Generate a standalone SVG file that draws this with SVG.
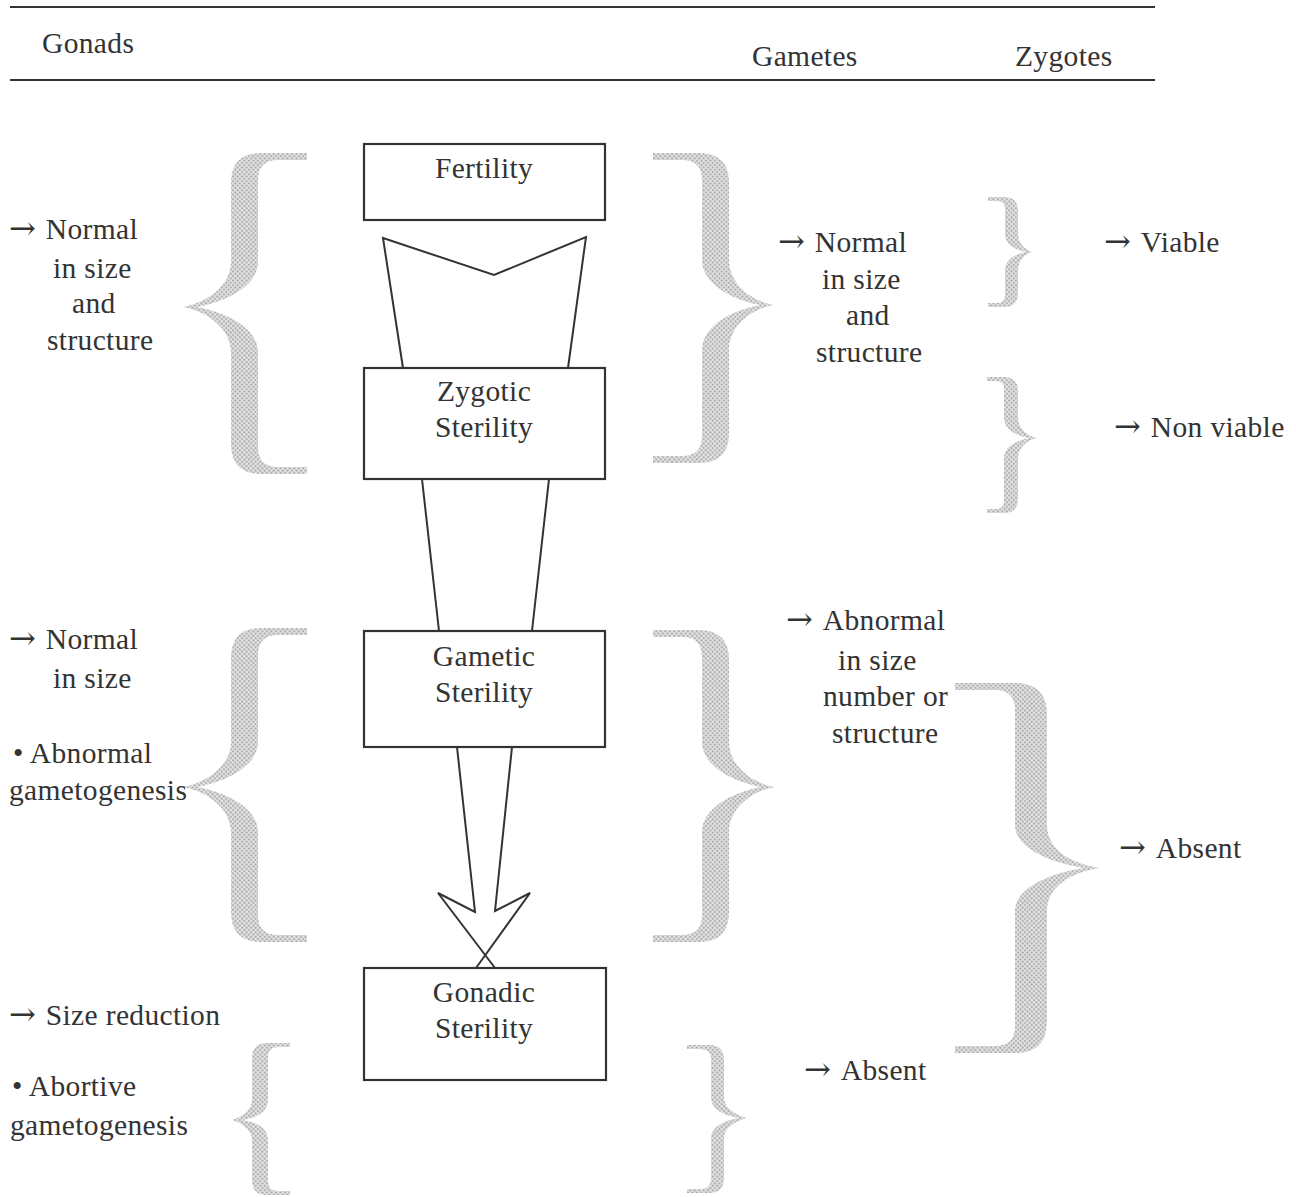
<svg xmlns="http://www.w3.org/2000/svg" width="1296" height="1197" viewBox="0 0 1296 1197">
<style>
text{font-family:"Liberation Serif","Times New Roman",serif;font-size:29.5px;fill:#333;letter-spacing:0.35px}
.ar{font-family:"DejaVu Serif",serif;font-size:32px;letter-spacing:0;font-weight:normal}
.mid{text-anchor:middle}
.box rect{fill:#fff;stroke:#333;stroke-width:2.2}
.rule{stroke:#333;stroke-width:2.2}
.conn{fill:none;stroke:#333;stroke-width:2;stroke-linejoin:miter}
.brace{fill:url(#ht)}
</style>
<defs>
<pattern id="ht" width="3.2" height="3.2" patternUnits="userSpaceOnUse" patternTransform="rotate(45)">
<rect width="3.2" height="3.2" fill="#e2e2e2"/>
<circle cx="1.6" cy="1.6" r="1.1" fill="#aaaaaa"/>
</pattern>
</defs>
<rect width="1296" height="1197" fill="#fff"/>

<g id="header">
<line class="rule" x1="10" y1="7" x2="1155" y2="7"/>
<line class="rule" x1="10" y1="80" x2="1155" y2="80"/>
<text x="42" y="53">Gonads</text>
<text x="752" y="66">Gametes</text>
<text x="1015" y="66">Zygotes</text>
</g>

<g id="braces">
<path class="brace" d="M307,153 L261,153 Q231,153 231,183 L231,262 C231,285 207,303 183,307 C207,311 231,329 231,352 L231,444 Q231,474 261,474 L307,474 L307,467 L278,467 Q258,467 258,447 L258,352 C258,330 230,313 197,307 C230,301 258,284 258,262 L258,180 Q258,160 278,160 L307,160 Z"/>
<path class="brace" d="M653,153 L699,153 Q729,153 729,183 L729,260 C729,283 750,301 774,305 C750,309 729,327 729,350 L729,433 Q729,463 699,463 L653,463 L653,456 L682,456 Q702,456 702,436 L702,350 C702,328 728,311 760,305 C728,299 702,282 702,260 L702,180 Q702,160 682,160 L653,160 Z"/>
<path class="brace" d="M988,197 L1004,197 Q1018,197 1018,211 L1018,234 C1018,243 1025,250 1032,252 C1025,254 1018,261 1018,270 L1018,293 Q1018,307 1004,307 L988,307 L988,303 L997,303 Q1005,303 1005,295 L1005,270 C1005,260 1015,254 1026,252 C1015,250 1005,244 1005,234 L1005,209 Q1005,201 997,201 L988,201 Z"/>
<path class="brace" d="M987,377 L1004,377 Q1018,377 1018,391 L1018,418 C1018,428 1027,436 1037,438 C1027,440 1018,448 1018,458 L1018,499 Q1018,513 1004,513 L987,513 L987,509 L996,509 Q1004,509 1004,501 L1004,458 C1004,447 1016,440 1030,438 C1016,436 1004,429 1004,418 L1004,389 Q1004,381 996,381 L987,381 Z"/>
<path class="brace" d="M307,628 L261,628 Q231,628 231,658 L231,742 C231,765 207,783 183,787 C207,791 231,809 231,832 L231,912 Q231,942 261,942 L307,942 L307,935 L278,935 Q258,935 258,915 L258,832 C258,810 230,793 197,787 C230,781 258,764 258,742 L258,655 Q258,635 278,635 L307,635 Z"/>
<path class="brace" d="M653,630 L699,630 Q729,630 729,660 L729,742 C729,765 751,783 775,787 C751,791 729,809 729,832 L729,912 Q729,942 699,942 L653,942 L653,935 L682,935 Q702,935 702,915 L702,832 C702,810 729,793 761,787 C729,781 702,764 702,742 L702,657 Q702,637 682,637 L653,637 Z"/>
<path class="brace" d="M955,683 L1015,683 Q1047,683 1047,715 L1047,825 C1047,850 1072,864 1100,868 C1072,872 1047,886 1047,911 L1047,1021 Q1047,1053 1015,1053 L955,1053 L955,1046 L995,1046 Q1015,1046 1015,1026 L1015,911 C1015,888 1050,873 1084,868 C1050,863 1015,848 1015,825 L1015,710 Q1015,690 995,690 L955,690 Z"/>
<path class="brace" d="M290,1043 L267,1043 Q252,1043 252,1058 L252,1100 C252,1110 242,1117 232,1120 C242,1123 252,1130 252,1140 L252,1180 Q252,1195 267,1195 L290,1195 L290,1191 L278,1191 Q268,1191 268,1181 L268,1140 C268,1128 256,1122 242,1120 C256,1118 268,1112 268,1100 L268,1057 Q268,1047 278,1047 L290,1047 Z"/>
<path class="brace" d="M687,1045 L709,1045 Q724,1045 724,1060 L724,1098 C724,1108 736,1115 747,1118 C736,1121 724,1128 724,1138 L724,1178 Q724,1193 709,1193 L687,1193 L687,1189 L701,1189 Q711,1189 711,1179 L711,1138 C711,1127 725,1120 739,1118 C725,1116 711,1109 711,1098 L711,1059 Q711,1049 701,1049 L687,1049 Z"/>
</g>

<g id="connectors">
<polyline class="conn" points="403,368 383,238 494,275 586,237 568,368"/>
<line class="conn" x1="422" y1="479" x2="439" y2="631"/>
<line class="conn" x1="549" y1="479" x2="532" y2="631"/>
<polyline class="conn" points="457,747 475,912 438,893 495,968"/>
<polyline class="conn" points="512,747 495,911 530,893 476,968"/>
</g>

<g id="fertility" class="box">
<rect x="364" y="144" width="241" height="76"/>
<text class="mid" x="484" y="178">Fertility</text>
</g>
<g id="zygotic" class="box">
<rect x="364" y="368" width="241" height="111"/>
<text class="mid" x="484" y="401">Zygotic</text>
<text class="mid" x="484" y="437">Sterility</text>
</g>
<g id="gametic" class="box">
<rect x="364" y="631" width="241" height="116"/>
<text class="mid" x="484" y="666">Gametic</text>
<text class="mid" x="484" y="702">Sterility</text>
</g>
<g id="gonadic" class="box">
<rect x="364" y="968" width="242" height="112"/>
<text class="mid" x="484" y="1002">Gonadic</text>
<text class="mid" x="484" y="1038">Sterility</text>
</g>

<g id="gonads-labels">
<text x="9" y="239"><tspan class="ar">→</tspan><tspan dx="10">Normal</tspan></text>
<text x="53" y="278">in size</text>
<text x="72" y="313">and</text>
<text x="47" y="350">structure</text>
<text x="9" y="649"><tspan class="ar">→</tspan><tspan dx="10">Normal</tspan></text>
<text x="53" y="688">in size</text>
<text x="13" y="763">• Abnormal</text>
<text x="9" y="800">gametogenesis</text>
<text x="9" y="1025"><tspan class="ar">→</tspan><tspan dx="10">Size reduction</tspan></text>
<text x="12" y="1096">• Abortive</text>
<text x="10" y="1135">gametogenesis</text>
</g>

<g id="gametes-labels">
<text x="778" y="252"><tspan class="ar">→</tspan><tspan dx="10">Normal</tspan></text>
<text x="822" y="289">in size</text>
<text x="846" y="325">and</text>
<text x="816" y="362">structure</text>
<text x="786" y="630"><tspan class="ar">→</tspan><tspan dx="10">Abnormal</tspan></text>
<text x="838" y="670">in size</text>
<text x="823" y="706">number or</text>
<text x="832" y="743">structure</text>
<text x="804" y="1080"><tspan class="ar">→</tspan><tspan dx="10">Absent</tspan></text>
</g>

<g id="zygotes-labels">
<text x="1104" y="252"><tspan class="ar">→</tspan><tspan dx="10">Viable</tspan></text>
<text x="1114" y="437"><tspan class="ar">→</tspan><tspan dx="10">Non viable</tspan></text>
<text x="1119" y="858"><tspan class="ar">→</tspan><tspan dx="10">Absent</tspan></text>
</g>
</svg>
